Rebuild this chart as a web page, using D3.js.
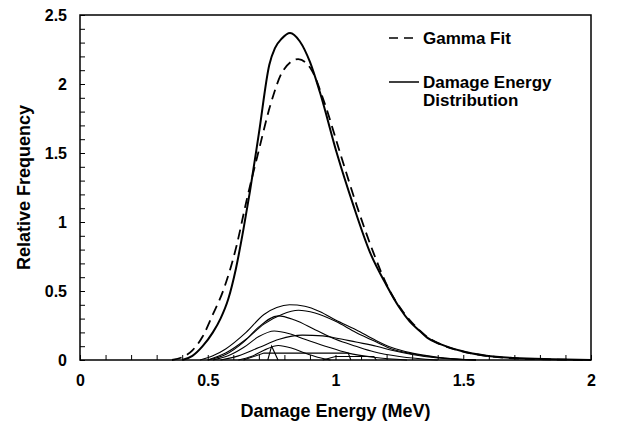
<!DOCTYPE html>
<meta charset="utf-8">
<title>Damage Energy Distribution</title>
<style>

body {
  margin: 0;
  background: #fff;
}

svg {
  font-family: "Liberation Sans", Arial, sans-serif;
  font-weight: bold;
}

.curve {
  fill: none;
  stroke: #000;
}

</style>
<body>
<script src="https://d3js.org/d3.v7.min.js"></script>
<script>

// measured distribution (solid) and gamma fit (dashed), [energy MeV, relative frequency]
var distribution = [
  [0.40, 0], [0.44, 0.03], [0.48, 0.10], [0.52, 0.20], [0.55, 0.30],
  [0.58, 0.44], [0.61, 0.66], [0.64, 0.95], [0.665, 1.22], [0.70, 1.64],
  [0.741, 2.14], [0.763, 2.26], [0.79, 2.33], [0.822, 2.37], [0.86, 2.31],
  [0.90, 2.16], [0.939, 1.94], [1.005, 1.50], [1.07, 1.12], [1.135, 0.78],
  [1.20, 0.54], [1.25, 0.38], [1.29, 0.28], [1.33, 0.21], [1.36, 0.16],
  [1.41, 0.115], [1.49, 0.067], [1.59, 0.031], [1.70, 0.014], [1.85, 0.005],
  [2.0, 0]
];

var gammaFit = [
  [0.36, 0], [0.40, 0.02], [0.44, 0.07], [0.48, 0.17], [0.52, 0.33],
  [0.56, 0.50], [0.613, 0.83], [0.65, 1.14], [0.70, 1.52], [0.744, 1.84],
  [0.796, 2.10], [0.854, 2.18], [0.907, 2.10], [0.952, 1.89], [1.018, 1.50],
  [1.083, 1.12], [1.148, 0.78], [1.207, 0.52], [1.26, 0.36], [1.30, 0.27],
  [1.35, 0.18], [1.41, 0.115], [1.49, 0.065], [1.59, 0.03], [1.70, 0.012],
  [1.85, 0.004], [2.0, 0]
];

// component contributions drawn under the main peak
var compA = [[0.47, 0], [0.52, 0.03], [0.57, 0.08], [0.65, 0.20], [0.72, 0.33], [0.77, 0.38], [0.82, 0.40], [0.88, 0.39], [0.94, 0.35], [1.00, 0.29], [1.08, 0.22], [1.16, 0.14], [1.22, 0.09], [1.30, 0.05], [1.40, 0.02], [1.55, 0]];
var compB = [[0.50, 0], [0.57, 0.05], [0.65, 0.15], [0.72, 0.26], [0.79, 0.33], [0.855, 0.36], [0.92, 0.34], [1.00, 0.28], [1.08, 0.20], [1.16, 0.13], [1.22, 0.08], [1.30, 0.045], [1.40, 0.018], [1.55, 0]];
var compC = [[0.50, 0], [0.57, 0.04], [0.64, 0.13], [0.70, 0.24], [0.776, 0.32], [0.84, 0.29], [0.92, 0.22], [1.00, 0.15], [1.08, 0.10], [1.15, 0.06], [1.25, 0.025], [1.40, 0]];
var compD = [[0.52, 0], [0.58, 0.03], [0.64, 0.09], [0.70, 0.17], [0.76, 0.21], [0.82, 0.19], [0.88, 0.15], [0.96, 0.10], [1.05, 0.05], [1.15, 0.02], [1.28, 0]];
var compE = [[0.55, 0], [0.62, 0.03], [0.70, 0.09], [0.78, 0.15], [0.87, 0.18], [0.95, 0.175], [1.00, 0.16], [1.08, 0.13], [1.16, 0.10], [1.22, 0.07], [1.30, 0.04], [1.40, 0.015], [1.55, 0]];
var compF = [[0.62, 0], [0.67, 0.025], [0.72, 0.07], [0.776, 0.105], [0.83, 0.085], [0.88, 0.05], [0.93, 0.02], [0.98, 0]];
var compG = [[0.735, 0], [0.75, 0.10], [0.775, 0]];
var compH = [[0.64, 0], [0.72, 0.05], [1.05, 0.05], [1.06, 0]];
var compI = [[0.95, 0], [1.00, 0.025], [1.15, 0.025], [1.16, 0]];

var components = [compA, compB, compC, compD, compE, compF, compG, compH, compI];

var xTicks = [0, 0.5, 1, 1.5, 2];
var yTicks = [0, 0.5, 1, 1.5, 2, 2.5];
var minorX = d3.range(0, 2.0001, 0.1);
var minorY = d3.range(0, 2.5001, 0.1);

var legendItems = [
  {label: ["Gamma Fit"], dash: "9,6"},
  {label: ["Damage Energy", "Distribution"], dash: null}
];

var margin = {top: 15, right: 30, bottom: 73, left: 80},
    width = 621 - margin.left - margin.right,
    height = 433 - margin.top - margin.bottom;

var x = d3.scaleLinear()
    .domain([0, 2])
    .range([0, width]);

var y = d3.scaleLinear()
    .domain([0, 2.5])
    .range([height, 0]);

var svg = d3.select("body").append("svg")
    .attr("width", 621)
    .attr("height", 433)
  .append("g")
    .attr("transform", "translate(" + margin.left + "," + margin.top + ")");

// frame
svg.append("rect")
    .attr("width", width)
    .attr("height", height)
    .attr("fill", "none")
    .attr("stroke", "#000")
    .attr("stroke-width", 1.5);

// inward ticks every 0.1
svg.append("g")
    .attr("transform", "translate(0," + height + ")")
    .call(d3.axisBottom(x).tickValues(minorX).tickSize(-5).tickFormat(""))
    .call(function(g) { g.select(".domain").remove(); });

svg.append("g")
    .call(d3.axisLeft(y).tickValues(minorY).tickSize(-5).tickFormat(""))
    .call(function(g) { g.select(".domain").remove(); });

// tick labels
svg.append("g")
    .attr("transform", "translate(0," + height + ")")
    .call(d3.axisBottom(x).tickValues(xTicks).tickSize(0).tickPadding(15).tickFormat(d3.format("")))
    .call(function(g) {
      g.select(".domain").remove();
      g.selectAll("text").attr("font-size", 16).attr("font-weight", "bold").attr("font-family", null);
    });

svg.append("g")
    .call(d3.axisLeft(y).tickValues(yTicks).tickSize(0).tickPadding(13).tickFormat(d3.format("")))
    .call(function(g) {
      g.select(".domain").remove();
      g.selectAll("text").attr("font-size", 16).attr("font-weight", "bold").attr("font-family", null);
    });

// axis titles
svg.append("text")
    .attr("x", width / 2)
    .attr("y", height + 57)
    .attr("text-anchor", "middle")
    .attr("font-size", 18)
    .text("Damage Energy (MeV)");

svg.append("text")
    .attr("transform", "translate(-50," + (height / 2) + ") rotate(-90)")
    .attr("text-anchor", "middle")
    .attr("font-size", 18)
    .text("Relative Frequency");

var line = d3.line()
    .x(function(d) { return x(d[0]); })
    .y(function(d) { return y(d[1]); })
    .curve(d3.curveMonotoneX);

var lineSharp = d3.line()
    .x(function(d) { return x(d[0]); })
    .y(function(d) { return y(d[1]); });

svg.selectAll(".comp")
    .data(components)
  .enter().append("path")
    .attr("class", "curve comp")
    .attr("stroke-width", 1.1)
    .attr("d", function(d) { return d.length < 5 ? lineSharp(d) : line(d); });

svg.append("path")
    .attr("class", "curve")
    .attr("stroke-width", 1.8)
    .attr("stroke-dasharray", "10,6")
    .attr("d", line(gammaFit));

svg.append("path")
    .attr("class", "curve")
    .attr("stroke-width", 2)
    .attr("d", line(distribution));

// legend
var legend = svg.append("g")
    .attr("transform", "translate(" + (width - 202) + ",23)");

var item = legend.selectAll("g")
    .data(legendItems)
  .enter().append("g")
    .attr("transform", function(d, i) { return "translate(0," + i * 44 + ")"; });

item.append("line")
    .attr("x1", 0)
    .attr("x2", 30)
    .attr("stroke", "#000")
    .attr("stroke-width", 1.5)
    .attr("stroke-dasharray", function(d) { return d.dash; });

item.append("text")
    .attr("font-size", 17)
    .selectAll("tspan")
    .data(function(d) { return d.label; })
  .enter().append("tspan")
    .attr("x", 34)
    .attr("dy", function(d, i) { return i ? "1.05em" : "0.35em"; })
    .text(function(d) { return d; });

</script>
</body>
